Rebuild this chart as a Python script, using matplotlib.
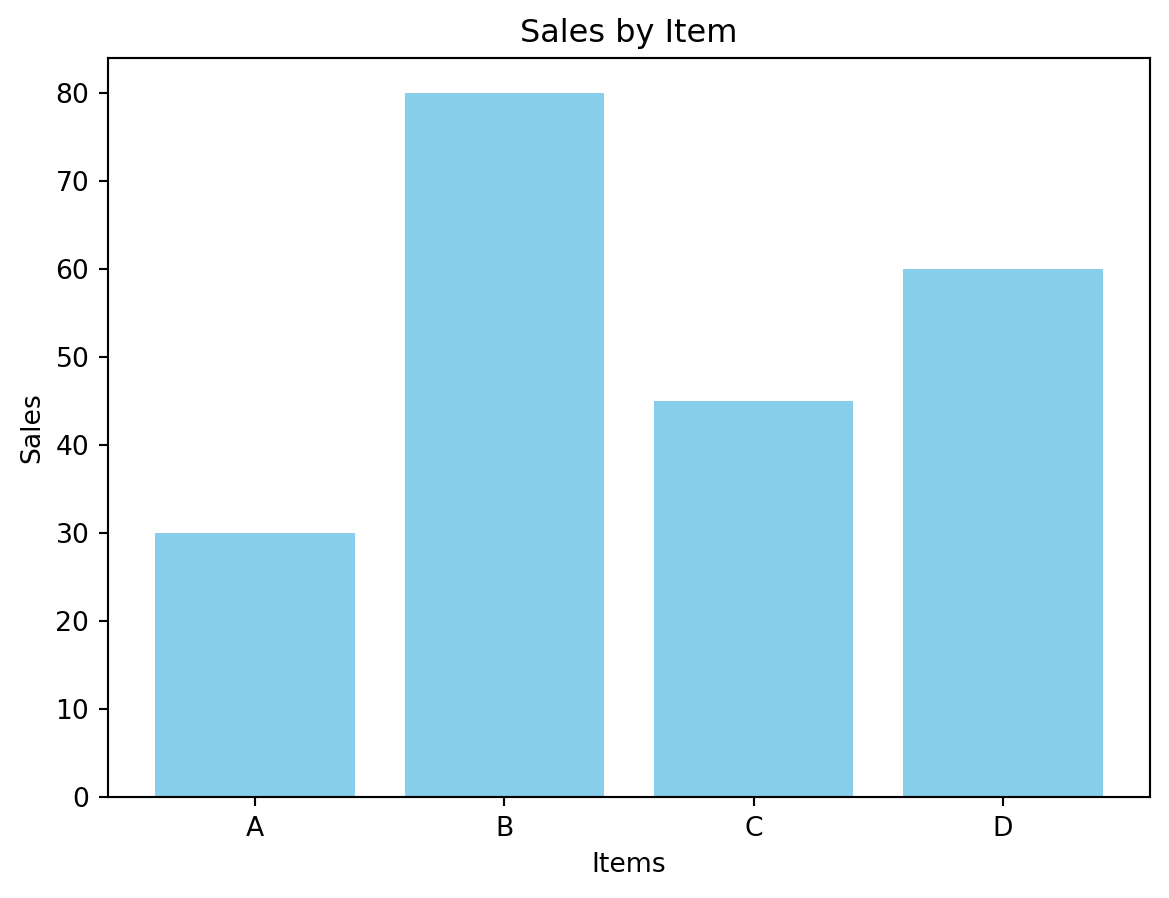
import matplotlib
matplotlib.use('Agg')
import matplotlib.pyplot as plt

# data
items = ['A', 'B', 'C', 'D']
sales = [30, 80, 45, 60]

W, H, DPI = 1169, 898, 192
fig = plt.figure(figsize=(W/DPI, H/DPI), dpi=DPI)
ax = fig.add_axes([108/W, 1-797/H, (1150-108)/W, (797-58)/H])

ax.bar(items, sales, color='skyblue')
ax.set_title('Sales by Item')
ax.set_xlabel('Items')
ax.set_ylabel('Sales')

fig.savefig('out.png', dpi=DPI)
